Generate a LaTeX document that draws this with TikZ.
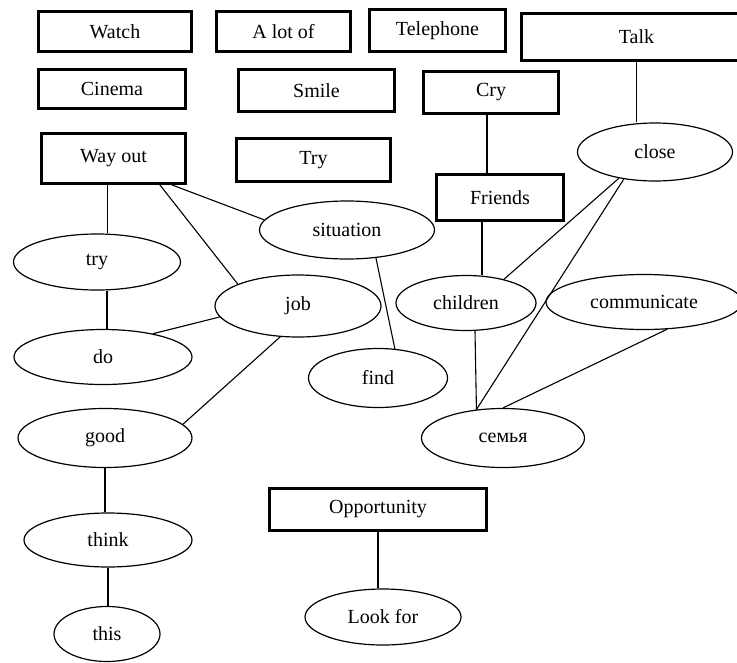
\documentclass[tikz,border=0pt]{standalone}
\usepackage{fontspec}
\setmainfont{Liberation Serif}
\usetikzlibrary{shapes.geometric}

\begin{document}
\begin{tikzpicture}[x=1pt, y=-1pt, font=\fontsize{20}{24}\selectfont]
\tikzstyle{wordbox} = [rectangle, draw=black, line width=2.8pt, inner sep=0pt]
\tikzstyle{wordoval} = [ellipse, draw=black, line width=1.2pt, inner sep=0pt]
\tikzstyle{link} = [draw=black, line width=1.1pt]

\useasboundingbox (0,0) rectangle (737,662);

\node(watch) [wordbox, minimum width=153pt, minimum height=40pt] at (115,31.5) {Watch};
\node(aLotOf) [wordbox, minimum width=134pt, minimum height=40pt] at (283.5,31.5) {A lot of};
\node(telephone) [wordbox, minimum width=136pt, minimum height=42pt] at (437.5,30.5) {Telephone};
\node(talk) [wordbox, minimum width=230pt, minimum height=47pt] at (636.5,37) {Talk};
\node(cinema) [wordbox, minimum width=147pt, minimum height=39pt] at (112,89) {Cinema};
\node(smile) [wordbox, minimum width=156pt, minimum height=42pt] at (316.5,90.5) {Smile};
\node(cry) [wordbox, minimum width=135pt, minimum height=42pt] at (491,92.5) {Cry};
\node(wayOut) [wordbox, minimum width=144pt, minimum height=50pt] at (113.5,158.5) {Way out};
\node(tryBox) [wordbox, minimum width=154pt, minimum height=43pt] at (313.5,160) {Try};
\node(friends) [wordbox, minimum width=127pt, minimum height=46pt] at (500,197.5) {Friends};
\node(opportunity) [wordbox, minimum width=217pt, minimum height=42pt] at (378,509.5) {Opportunity};

\node(close) [wordoval, minimum width=155pt, minimum height=58pt] at (655,152) {close};
\node(situation) [wordoval, minimum width=175pt, minimum height=58pt] at (347,230) {situation};
\node(try) [wordoval, minimum width=167pt, minimum height=56pt] at (97,262) {try};
\node(job) [wordoval, minimum width=166pt, minimum height=62pt] at (298,306) {job};
\node(do) [wordoval, minimum width=178pt, minimum height=55pt] at (103,357) {do};
\node(find) [wordoval, minimum width=139pt, minimum height=59pt] at (378,378) {find};
\node(children) [wordoval, minimum width=140pt, minimum height=55pt] at (466,303) {children};
\node(communicate) [wordoval, minimum width=196pt, minimum height=55pt] at (644,302) {communicate};
\node(semya) [wordoval, minimum width=163pt, minimum height=59pt] at (503,438) {семья};
\node(good) [wordoval, minimum width=174pt, minimum height=59pt] at (105,438) {good};
\node(think) [wordoval, minimum width=168pt, minimum height=54pt] at (108,540) {think};
\node(this) [wordoval, minimum width=106pt, minimum height=55pt] at (107,634) {this};
\node(lookFor) [wordoval, minimum width=156pt, minimum height=56pt] at (383,617) {Look for};

\draw[link] ([xshift=-6pt]wayOut.south) -- ([xshift=-6pt]wayOut.south |- try.north);
\draw[link] ([xshift=-27pt]wayOut.south east) -- (job.160);
\draw[link] ([xshift=-15pt]wayOut.south east) -- (situation.173);
\draw[link] ([xshift=10pt]try.south) -- ([xshift=10pt]try.south |- do.north);
\draw[link] (do.25) -- (job.188);
\draw[link] (job.240) -- (good.10);
\draw[link] (situation.316) -- (find.60);
\draw[link] (good.south) -- (good.south |- think.north);
\draw[link] (think.south) -- (think.south |- this.north);
\draw[link] (talk.south) -- (talk.south |- close.north);
\draw[link] ([xshift=-4pt]cry.south) -- ([xshift=-4pt]cry.south |- friends.north);
\draw[link] ([xshift=-18pt]friends.south) -- ([xshift=-18pt]friends.south |- children.north);
\draw[link] (close.216) -- (children.32);
\draw[link] (close.221) -- (semya.133);
\draw[link] ([xshift=9pt]children.south) -- (semya.133);
\draw[link] (communicate.310) -- (semya.north);
\draw[link] (opportunity.south) -- (opportunity.south |- lookFor.north);
\end{tikzpicture}
\end{document}
